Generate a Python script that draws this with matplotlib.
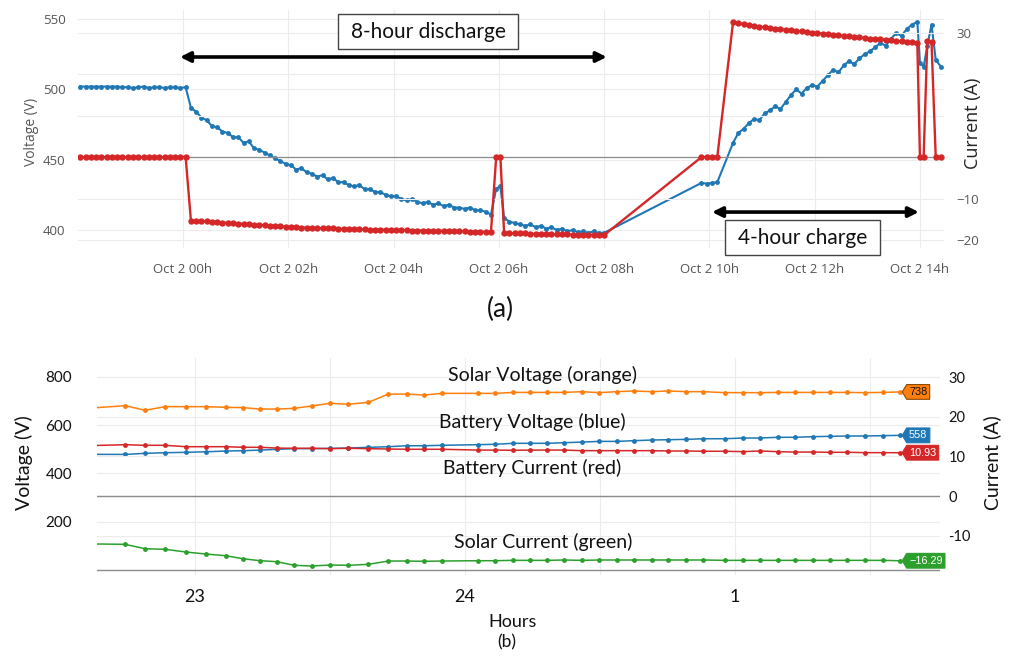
import matplotlib
matplotlib.use("Agg")
import matplotlib.pyplot as plt
from matplotlib.path import Path
from matplotlib.transforms import blended_transform_factory

W, H = 1012, 662

# ---------------- Panel (a): 8-hour discharge / 4-hour charge ----------------
hours_a = [
    -1.95, -1.85, -1.75, -1.65, -1.55, -1.45, -1.35, -1.25, -1.15, -1.05,
    -0.95, -0.85, -0.75, -0.65, -0.55, -0.45, -0.35, -0.25, -0.15, -0.05, 0.05,
    0.15, 0.25, 0.35, 0.45, 0.55, 0.65, 0.75, 0.85, 0.95,
    1.05, 1.15, 1.25, 1.35, 1.45, 1.55, 1.65, 1.75, 1.85, 1.95,
    2.05, 2.15, 2.25, 2.35, 2.45, 2.55, 2.65, 2.75, 2.85, 2.95,
    3.05, 3.15, 3.25, 3.35, 3.45, 3.55, 3.65, 3.75, 3.85, 3.95,
    4.05, 4.15, 4.25, 4.35, 4.45, 4.55, 4.65, 4.75, 4.85, 4.95,
    5.05, 5.15, 5.25, 5.35, 5.45, 5.55, 5.65, 5.75, 5.85,
    5.95, 6.03,
    6.1, 6.2, 6.3, 6.4, 6.5, 6.6, 6.7, 6.8, 6.9, 7.0,
    7.1, 7.2, 7.3, 7.4, 7.5, 7.6, 7.7, 7.8, 7.9, 8.0,
    9.85, 9.95, 10.05, 10.15,
    10.45, 10.55, 10.65, 10.75, 10.85, 10.95,
    11.05, 11.15, 11.25, 11.35, 11.45, 11.55, 11.65, 11.75, 11.85, 11.95,
    12.05, 12.15, 12.25, 12.35, 12.45, 12.55, 12.65, 12.75, 12.85, 12.95,
    13.05, 13.15, 13.25, 13.35, 13.45, 13.55, 13.65, 13.75, 13.85, 13.95,
    14.0, 14.07, 14.14, 14.22, 14.3, 14.4,
]

battery_voltage_a = [
    502, 502, 502, 502, 502, 502, 502, 502, 501.5, 501.5,
    501, 501.5, 502, 501, 501.5, 501.5, 501, 501.5, 501.5, 501, 501.5,
    487, 484, 480, 478, 474, 473, 470, 469, 466,
    466, 462, 463, 458, 457, 455, 453, 451, 449, 447,
    446, 443, 444, 441, 440, 438, 439, 436, 437, 434,
    434, 432, 431, 432, 429, 429, 427, 427, 425, 424,
    424, 422, 421, 422, 420, 419, 420, 418, 419, 417,
    418, 416, 416, 415, 416, 414, 414, 413, 411,
    429.5, 431,
    408.5, 406, 405, 404, 403, 404, 402, 403, 401, 402,
    400, 401, 399, 400, 398.5, 399, 398, 399, 398, 398,
    433.5, 433, 433.5, 434,
    462, 469, 472, 476, 479, 478,
    483, 485, 488, 486, 491, 496, 500, 497, 501, 503,
    502, 506, 510, 514, 512, 517, 520, 518, 522, 525,
    527, 530, 533, 531, 536, 540, 538, 543, 546, 548,
    519, 516, 531, 546, 521, 516,
]

battery_current_a = [
    0, 0, 0, 0, 0, 0, 0, 0, 0, 0,
    0, 0, 0, 0, 0, 0, 0, 0, 0, 0, 0,
    -15.3, -15.4, -15.5, -15.5, -15.6, -15.7, -15.8, -15.9, -16.0,
    -16.1, -16.1, -16.2, -16.3, -16.4, -16.4, -16.5, -16.6, -16.7, -16.8,
    -16.9, -16.9, -17.0, -17.0, -17.1, -17.1, -17.2, -17.2, -17.2, -17.3,
    -17.3, -17.3, -17.4, -17.4, -17.4, -17.5, -17.5, -17.5, -17.5, -17.6,
    -17.6, -17.6, -17.6, -17.7, -17.7, -17.7, -17.7, -17.8, -17.8, -17.8,
    -17.8, -17.9, -17.9, -17.9, -18.0, -18.0, -18.0, -18.1, -18.1,
    0, 0,
    -18.3, -18.3, -18.4, -18.4, -18.4, -18.5, -18.5, -18.5, -18.5, -18.6,
    -18.6, -18.6, -18.6, -18.7, -18.7, -18.7, -18.7, -18.8, -18.8, -18.8,
    0, 0, 0, 0,
    32.6, 32.3, 32.1, 31.9, 31.7, 31.5,
    31.3, 31.2, 31.0, 30.9, 30.7, 30.6, 30.4, 30.3, 30.2, 30.0,
    29.9, 29.8, 29.6, 29.5, 29.4, 29.2, 29.1, 29.0, 28.9, 28.7,
    28.6, 28.5, 28.4, 28.3, 28.2, 28.0, 27.9, 27.8, 27.7, 27.5,
    0, 0, 28.0, 27.7, 0, 0,
]

x_ticks_a = [0, 2, 4, 6, 8, 10, 12, 14]
x_ticklabels_a = ["Oct 2 00h", "Oct 2 02h", "Oct 2 04h", "Oct 2 06h",
                  "Oct 2 08h", "Oct 2 10h", "Oct 2 12h", "Oct 2 14h"]
v_ticks_a = [400, 450, 500, 550]
v_ticklabels_a = ["400", "450", "500", "550"]
i_ticks_a = [-20, -10, 0, 10, 20, 30]
i_ticklabels_a = ["\u221220", "\u221210", "", "", "", "30"]

# ---------------- Panel (b): solar / battery over hours ----------------
hours_b = [
    22.60, 22.741, 22.815, 22.889, 22.966, 23.041, 23.114, 23.177, 23.241,
    23.303, 23.368, 23.434, 23.5, 23.568, 23.642, 23.716, 23.784, 23.848,
    23.914, 24.049, 24.111, 24.179,
    24.241, 24.303, 24.367, 24.432, 24.496, 24.562, 24.626, 24.691, 24.753,
    24.819, 24.883, 24.963, 25.029, 25.093, 25.158, 25.222, 25.288, 25.352,
    25.416, 25.481, 25.547, 25.611,
]
solar_voltage_b = [
    670, 681, 662, 677, 677, 677, 674, 673, 667, 667, 670, 680, 691, 687,
    695, 729, 729, 725, 732, 732, 732, 736,
    736, 736, 736, 739, 735, 739, 742, 739, 742, 739, 739, 735, 735, 735,
    736, 736, 736, 736, 736, 735, 736, 738,
]
battery_voltage_b = [
    479.3, 479, 483.5, 486, 487.7, 490, 493, 494.5, 497, 500, 503, 503, 504,
    505.6, 508.3, 511, 515, 515, 516.7, 519.5, 521, 525,
    525, 525, 527.6, 530, 533, 533, 536, 538.7, 540, 541.4, 544, 544, 547,
    547, 550, 550, 552.6, 554, 555.3, 555.3, 556.7, 558,
]
battery_current_b = [
    12.7, 12.95, 12.8, 12.8, 12.45, 12.45, 12.45, 12.3, 12.3, 12.1, 12.05,
    12.05, 11.95, 12.05, 11.95, 11.87, 11.8, 11.8, 11.8, 11.6, 11.6, 11.55,
    11.6, 11.6, 11.6, 11.45, 11.45, 11.45, 11.45, 11.45, 11.37, 11.37, 11.3,
    11.3, 11.2, 11.37, 11.2, 11.1, 11.1, 11.04, 11.04, 10.95, 10.95, 10.93,
]
solar_current_b = [
    -12.04, -12.15, -13.26, -13.4, -14.09, -14.6, -15.02, -15.78, -16.28,
    -16.53, -17.44, -17.62, -17.36, -17.44, -17.19, -16.36, -16.36, -16.43,
    -16.36, -16.28, -16.28, -16.18,
    -16.19, -16.19, -16.1, -16.19, -16.1, -16.1, -16.1, -16.1, -16.1, -16.1,
    -16.1, -16.19, -16.19, -16.19, -16.19, -16.19, -16.19, -16.19, -16.19,
    -16.19, -16.19, -16.29,
]
tag_labels_b = ["738", "558", "10.93", "\u221216.29"]

x_ticks_b = [23, 24, 25]
x_ticklabels_b = ["23", "24", "1"]
x_minor_b = [23.5, 24.5, 25.5]
v_ticks_b = [200, 400, 600, 800]
i_ticks_b = [-10, 0, 10, 20, 30]
i_ticklabels_b = ["-10", "0", "10", "20", "30"]

BLUE = "#1f77b4"
RED = "#d62728"
ORANGE = "#ff7f0e"
GREEN = "#2ca02c"
GRID = "#ececec"
ZERO = "#8c8c8c"


def fx(x):
    return x / W


def fy(y):
    return 1 - y / H


def tag_box(x0, y0, width, height, mutation_size):
    pad = mutation_size * 0.22
    x0, y0 = x0 - pad, y0 - pad
    x1, y1 = x0 + width + 2 * pad, y0 + height + 2 * pad
    tip = (y1 - y0) * 0.3
    return Path([(x0, y0), (x1, y0), (x1, y1), (x0, y1),
                 (x0 - tip, (y0 + y1) / 2), (x0, y0)], closed=True)


def label_box(x0, y0, width, height, mutation_size):
    px, py = 0.62 * mutation_size, 0.34 * mutation_size
    x0, y0 = x0 - px, y0 - py
    x1, y1 = x0 + width + 2 * px, y0 + height + 2 * py
    return Path([(x0, y0), (x1, y0), (x1, y1), (x0, y1), (x0, y0)],
                closed=True)


fig = plt.figure(figsize=(W / 100, H / 100), dpi=100)

# ======================= panel (a) =======================
ax1 = fig.add_axes([fx(78), fy(248), (944 - 78) / W, (248 - 10) / H])
ax2 = ax1.twinx()
for ax in (ax1, ax2):
    for s in ax.spines.values():
        s.set_visible(False)
    ax.tick_params(length=0)

ax1.plot(hours_a, battery_voltage_a, color=BLUE, lw=1.5, marker="o",
         ms=3.5, mew=0, zorder=3)
ax2.plot(hours_a, battery_current_a, color=RED, lw=1.7, marker="o",
         ms=4.6, mew=0, zorder=3)

ax1.set_xlim(-1.995, 14.457)
ax1.set_ylim(387.23, 556.42)
ax2.set_ylim(-21.92, 35.48)

ax1.set_xticks(x_ticks_a)
ax1.set_xticklabels(x_ticklabels_a, fontfamily="Open Sans", fontsize=9.5,
                    color="#555555")
ax1.tick_params(axis="x", pad=11)
ax1.set_yticks(v_ticks_a)
ax1.set_yticklabels(v_ticklabels_a, fontfamily="Open Sans", fontsize=9.5,
                    color="#555555")
ax1.tick_params(axis="y", pad=9)
ax2.set_yticks(i_ticks_a)
ax2.set_yticklabels(i_ticklabels_a, fontfamily="Open Sans", fontsize=9.5,
                    color="#555555")
ax2.tick_params(axis="y", pad=9)

ax1.grid(True, color=GRID, lw=0.8, zorder=0)
ax2.grid(True, axis="y", color=GRID, lw=0.8, zorder=0)
ax1.set_axisbelow(True)
ax2.set_axisbelow(True)
ax2.axhline(0, color=ZERO, lw=0.9, zorder=1)

fig.text(fx(32), fy(132), "Voltage (V)", rotation=90, ha="center",
         va="center", fontfamily="Open Sans", fontsize=10, color="#555555")
fig.text(fx(973), fy(123), "Current (A)", rotation=90, ha="center",
         va="center", fontfamily="Open Sans", fontsize=13, color="#222222")

trans_a = blended_transform_factory(ax1.transData, ax1.transAxes)
arrow_style = dict(arrowstyle="<|-|>,head_length=0.6,head_width=0.3",
                   lw=2.6, color="black", shrinkA=0, shrinkB=0)
ax1.annotate("", xy=(8.05, 0.8025), xytext=(-0.057, 0.8025),
             xycoords=trans_a, textcoords=trans_a, arrowprops=arrow_style,
             annotation_clip=False)
ax1.annotate("", xy=(13.98, 0.151), xytext=(10.05, 0.151),
             xycoords=trans_a, textcoords=trans_a, arrowprops=arrow_style,
             annotation_clip=False)

box_props = dict(boxstyle=label_box, fc="white", ec="#444444", lw=1)
fig.text(fx(428), fy(31.5), "8-hour discharge", ha="center", va="center",
         fontfamily="Lato", fontsize=15, color="#111111", bbox=box_props)
fig.text(fx(802.5), fy(237.5), "4-hour charge", ha="center", va="center",
         fontfamily="Lato", fontsize=15, color="#111111", bbox=box_props)
fig.text(fx(500), fy(309), "(a)", ha="center", va="center",
         fontfamily="Lato", fontsize=19, color="#111111")

# ======================= panel (b) =======================
bx1 = fig.add_axes([fx(97), fy(575), (940 - 97) / W, (575 - 358) / H])
bx2 = bx1.twinx()
for ax in (bx1, bx2):
    for s in ax.spines.values():
        s.set_visible(False)
    ax.tick_params(length=0, which="both")

bx1.plot(hours_b, solar_voltage_b, color=ORANGE, lw=1.1, marker="o",
         ms=3.5, mew=0, zorder=3)
bx1.plot(hours_b, battery_voltage_b, color=BLUE, lw=1.1, marker="o",
         ms=3.5, mew=0, zorder=3)
bx2.plot(hours_b, battery_current_b, color=RED, lw=1.1, marker="o",
         ms=3.5, mew=0, zorder=3)
bx2.plot(hours_b, solar_current_b, color=GREEN, lw=1.1, marker="o",
         ms=3.5, mew=0, zorder=3)

bx1.set_xlim(22.637, 25.759)
bx1.set_ylim(-20.7, 878.6)
bx2.set_ylim(-19.88, 34.80)

bx1.set_xticks(x_ticks_b)
bx1.set_xticklabels(x_ticklabels_b, fontfamily="Lato", fontsize=13,
                    color="#111111")
bx1.set_xticks(x_minor_b, minor=True)
bx1.tick_params(axis="x", pad=10)
bx1.set_yticks(v_ticks_b)
bx1.set_yticklabels([str(v) for v in v_ticks_b], fontfamily="Lato",
                    fontsize=11, color="#111111")
bx1.tick_params(axis="y", pad=18)
bx2.set_yticks(i_ticks_b)
bx2.set_yticklabels(i_ticklabels_b, fontfamily="Lato", fontsize=10.5,
                    color="#111111")
bx2.tick_params(axis="y", pad=6)

bx1.grid(True, which="both", color=GRID, lw=0.8, zorder=0)
bx2.grid(True, axis="y", color=GRID, lw=0.8, zorder=0)
bx1.set_axisbelow(True)
bx2.set_axisbelow(True)
bx1.axhline(0, color=ZERO, lw=1.0, zorder=1)
bx2.axhline(0, color=ZERO, lw=1.0, zorder=1)

# end-of-line value tags
series_tags = [
    (bx1, solar_voltage_b, ORANGE, "#111111", "#8a4a00", tag_labels_b[0]),
    (bx1, battery_voltage_b, BLUE, "white", BLUE, tag_labels_b[1]),
    (bx2, battery_current_b, RED, "white", RED, tag_labels_b[2]),
    (bx2, solar_current_b, GREEN, "white", GREEN, tag_labels_b[3]),
]
for ax, vals, fc, tc, ec, lab in series_tags:
    ax.annotate(lab, xy=(hours_b[-1], vals[-1]), xytext=(6.5, 0),
                textcoords="offset points", ha="left", va="center",
                fontfamily="Liberation Sans", fontsize=7.8, color=tc,
                bbox=dict(boxstyle=tag_box, fc=fc, ec=ec, lw=0.8),
                annotation_clip=False, zorder=5)

fig.text(fx(24), fy(463), "Voltage (V)", rotation=90, ha="center",
         va="center", fontfamily="Lato", fontsize=14, color="#111111")
fig.text(fx(992), fy(463), "Current (A)", rotation=90, ha="center",
         va="center", fontfamily="Lato", fontsize=14, color="#111111")

label_kw = dict(ha="center", va="center", fontfamily="Lato", fontsize=14,
                color="#111111")
fig.text(fx(543), fy(375), "Solar Voltage (orange)", **label_kw)
fig.text(fx(532), fy(422), "Battery Voltage (blue)", **label_kw)
fig.text(fx(532), fy(468), "Battery Current (red)", **label_kw)
fig.text(fx(543), fy(542), "Solar Current (green)", **label_kw)

fig.text(fx(513), fy(622), "Hours", ha="center", va="center",
         fontfamily="Lato", fontsize=13, color="#111111")
fig.text(fx(507), fy(642), "(b)", ha="center", va="center",
         fontfamily="Lato", fontsize=12.5, color="#111111")

fig.savefig("out.png", dpi=100)
